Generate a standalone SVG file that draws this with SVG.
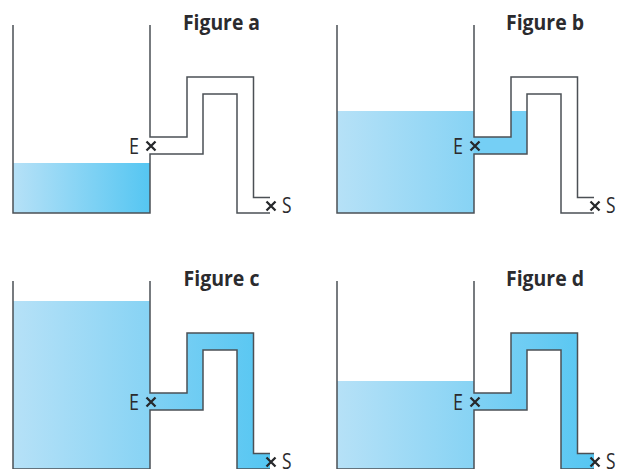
<svg xmlns="http://www.w3.org/2000/svg" width="623" height="469" viewBox="0 0 623 469">
<style>
.w{fill:none;stroke:#4b5055;stroke-width:1.5}
.x{fill:none;stroke:#26282b;stroke-width:2.3}
.t{font-family:"Open Sans","Liberation Sans",sans-serif;font-weight:700;font-size:21.500px;fill:#2b2b2e}
.l{font-family:"Open Sans","Liberation Sans",sans-serif;font-size:21px;fill:#2b2b2e}
</style>
<defs>
<linearGradient id="tankA" gradientUnits="userSpaceOnUse" x1="13" y1="0" x2="150" y2="0"><stop offset="0" stop-color="#b6e1f7"/><stop offset="1" stop-color="#55c6f2"/></linearGradient>
<linearGradient id="tankB" gradientUnits="userSpaceOnUse" x1="13" y1="0" x2="150" y2="0"><stop offset="0" stop-color="#b6e1f7"/><stop offset="1" stop-color="#87d3f4"/></linearGradient>
<linearGradient id="pipe" gradientUnits="userSpaceOnUse" x1="150" y1="0" x2="270" y2="0"><stop offset="0" stop-color="#80d1f4"/><stop offset="1" stop-color="#55c6f2"/></linearGradient>
<path id="pipeFill" d="M150 137H187V77H253.5V197.5H270V213H237V94H203V154H150Z"/>
<g id="vessel">
<path class="w" d="M13 25V213H150V154H203V94H237V213H270"/>
<path class="w" d="M150 25V137H187V77H253.5V197.5H270"/>
<path class="x" d="M146.500 141.500L155.500 150.500M155.500 141.500L146.500 150.500"/>
<path class="x" d="M266.500 201.500L275.500 210.500M275.500 201.500L266.500 210.500"/>
<text class="l" x="129" y="153.500" textLength="10" lengthAdjust="spacingAndGlyphs">E</text>
<text class="l" x="282" y="212.500" textLength="9.500" lengthAdjust="spacingAndGlyphs">S</text>
</g>
</defs>
<g id="figure-a">
<rect x="13" y="163" width="137" height="50" fill="url(#tankA)"/>
<use href="#vessel"/>
<text class="t" x="183" y="29.500" textLength="77" lengthAdjust="spacingAndGlyphs">Figure a</text>
</g>
<g id="figure-b" transform="translate(324 0)">
<rect x="13" y="111" width="137" height="102" fill="url(#tankB)"/>
<path d="M150 137H187V111H203V154H150Z" fill="#75cff5"/>
<use href="#vessel"/>
<text class="t" x="182" y="29.500" textLength="78" lengthAdjust="spacingAndGlyphs">Figure b</text>
</g>
<g id="figure-c" transform="translate(0 256)">
<rect x="13" y="45" width="137" height="168" fill="url(#tankB)"/>
<use href="#pipeFill" fill="url(#pipe)"/>
<use href="#vessel"/>
<text class="t" x="183.500" y="29.500" textLength="76" lengthAdjust="spacingAndGlyphs">Figure c</text>
</g>
<g id="figure-d" transform="translate(324 256)">
<rect x="13" y="125" width="137" height="88" fill="url(#tankB)"/>
<use href="#pipeFill" fill="url(#pipe)"/>
<use href="#vessel"/>
<text class="t" x="182" y="29.500" textLength="78" lengthAdjust="spacingAndGlyphs">Figure d</text>
</g>
</svg>
